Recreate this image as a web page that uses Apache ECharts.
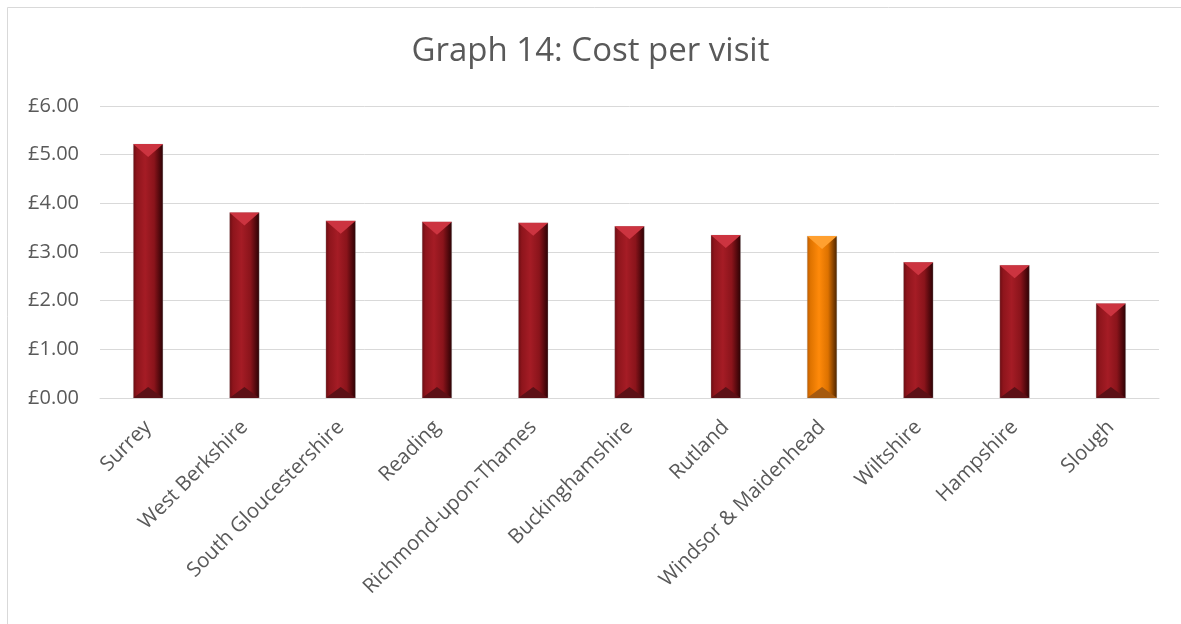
<!DOCTYPE html>
<html>
<head>
<meta charset="utf-8">
<script src="https://cdn.jsdelivr.net/npm/echarts@6/dist/echarts.min.js"></script>
<style>
html,body{margin:0;padding:0;background:#fff;}
#chart{width:1181px;height:624px;}
</style>
</head>
<body>
<div id="chart"></div>
<script>
const categories = ['Surrey','West Berkshire','South Gloucestershire','Reading','Richmond-upon-Thames','Buckinghamshire','Rutland','Windsor & Maidenhead','Wiltshire','Hampshire','Slough'];
const costs = [5.22, 3.81, 3.64, 3.62, 3.60, 3.53, 3.35, 3.33, 2.79, 2.73, 1.94];
const highlighted = 'Windsor & Maidenhead';
const yTicks = [0, 1, 2, 3, 4, 5, 6];

const redGrad = new echarts.graphic.LinearGradient(0,0,1,0,[
  {offset:0,color:'#6a0c12'},{offset:0.12,color:'#8e151c'},{offset:0.4,color:'#a51c25'},
  {offset:0.7,color:'#8a141b'},{offset:0.9,color:'#4a070b'},{offset:1,color:'#2a0305'}]);
const orangeGrad = new echarts.graphic.LinearGradient(0,0,1,0,[
  {offset:0,color:'#c05c00'},{offset:0.12,color:'#e07400'},{offset:0.4,color:'#ff8a0a'},
  {offset:0.7,color:'#dd7200'},{offset:0.9,color:'#7a3c00'},{offset:1,color:'#4a2400'}]);

const chart = echarts.init(document.getElementById('chart'));
const font = '"Open Sans", sans-serif';
chart.setOption({
  animation:false,
  backgroundColor:'#ffffff',
  title:{text:'Graph 14: Cost per visit',left:'center',top:30,
    textStyle:{fontFamily:font,fontSize:33,fontWeight:'normal',color:'#595959'}},
  graphic:[{type:'rect',shape:{x:7.5,y:7.5,width:1200,height:700},
    style:{fill:'none',stroke:'#d9d9d9',lineWidth:1},silent:true,z:-10}],
  grid:{left:100,right:22,top:106,bottom:226,containLabel:false},
  xAxis:{type:'category',data:categories,
    axisLine:{lineStyle:{color:'#d9d9d9',width:1}},axisTick:{show:false},
    axisLabel:{rotate:45,interval:0,margin:26,color:'#595959',fontFamily:font,fontSize:20.5}},
  yAxis:{type:'value',min:yTicks[0],max:yTicks[yTicks.length-1],interval:1,
    axisLine:{show:false},axisTick:{show:false},
    splitLine:{lineStyle:{color:'#d9d9d9',width:1}},
    axisLabel:{margin:21,color:'#595959',fontFamily:font,fontSize:20,
      formatter:v=>'£'+v.toFixed(2)}},
  series:[
    {type:'bar',barWidth:30,z:2,
     data:costs.map((v,i)=>({value:v,itemStyle:{color:categories[i]===highlighted?orangeGrad:redGrad,
        borderColor:'rgba(160,160,160,0.6)',borderWidth:0.5}}))},
    {type:'pictorialBar',symbol:'path://M0,0 L2,0 L1,1 Z',symbolSize:[30,13],
     symbolPosition:'end',z:3,silent:true,
     data:costs.map((v,i)=>({value:v,itemStyle:{color:categories[i]===highlighted?'#ffa030':'#cc3440'}}))},
    {type:'pictorialBar',symbol:'path://M0,1 L2,1 L1,0 Z',symbolSize:[30,11],
     symbolPosition:'start',z:3,silent:true,
     data:costs.map((v,i)=>({value:v,itemStyle:{color:categories[i]===highlighted?'#a55a10':'#5c1016'}}))}
  ]
});
</script>
</body>
</html>
